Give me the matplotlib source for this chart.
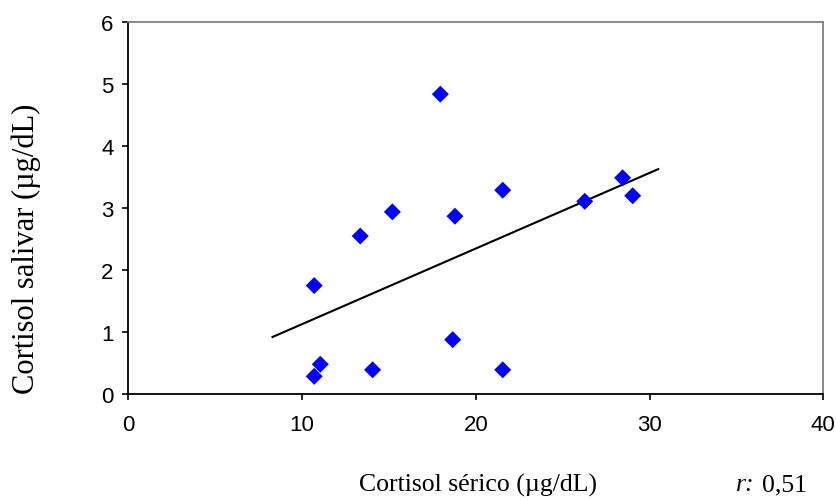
import matplotlib
matplotlib.use("Agg")
import matplotlib.pyplot as plt
import numpy as np

# Data
serum = [10.70, 11.05, 10.70, 13.35, 14.06, 15.20, 17.96, 18.80, 18.67, 21.55, 21.55, 26.27, 28.45, 29.03]
saliva = [0.285, 0.48, 1.75, 2.55, 0.39, 2.94, 4.84, 2.87, 0.877, 3.29, 0.39, 3.11, 3.49, 3.20]
trend_x = [8.3, 30.5]
trend_y = [0.92, 3.63]
x_ticks = [0, 10, 20, 30, 40]
y_ticks = [0, 1, 2, 3, 4, 5, 6]

fig = plt.figure(figsize=(8.37, 5.02), dpi=100)
ax = fig.add_axes([128.3/837, 1 - 395/502, (823.3-128.3)/837, (395-23.3)/502])

ax.plot(trend_x, trend_y, color="black", lw=1.5, zorder=2)
ax.scatter(serum, saliva, marker="D", s=75, color="#0000FF", edgecolors="none", zorder=3)

ax.set_xlim(0, 40)
ax.set_ylim(0, 6)
ax.set_xticks(x_ticks)
ax.set_yticks(y_ticks)

for s in ["top", "right"]:
    ax.spines[s].set_color("#808080")
    ax.spines[s].set_linewidth(1.3)
for s in ["left", "bottom"]:
    ax.spines[s].set_color("black")
    ax.spines[s].set_linewidth(1.3)

ax.tick_params(direction="out", length=4.5, width=1.2, labelsize=16)
for lab in ax.get_xticklabels() + ax.get_yticklabels():
    lab.set_fontfamily("Liberation Sans")
ax.tick_params(axis="y", pad=6)
ax.tick_params(axis="x", pad=10)

fig.text(478/837, 1 - 485/502, "Cortisol sérico (µg/dL)", family="Liberation Serif",
         fontsize=18.5, ha="center", va="center")
fig.text(26/837, 1 - 249/502, "Cortisol salivar (µg/dL)", family="Liberation Serif",
         fontsize=22, ha="center", va="center", rotation=90)
fig.text(736/837, 1 - 485/502, "r:", family="Liberation Serif", style="italic",
         fontsize=18.5, ha="left", va="center")
fig.text(762/837, 1 - 485/502, "0,51", family="Liberation Serif",
         fontsize=18.5, ha="left", va="center")

fig.savefig("out.png", dpi=100)
